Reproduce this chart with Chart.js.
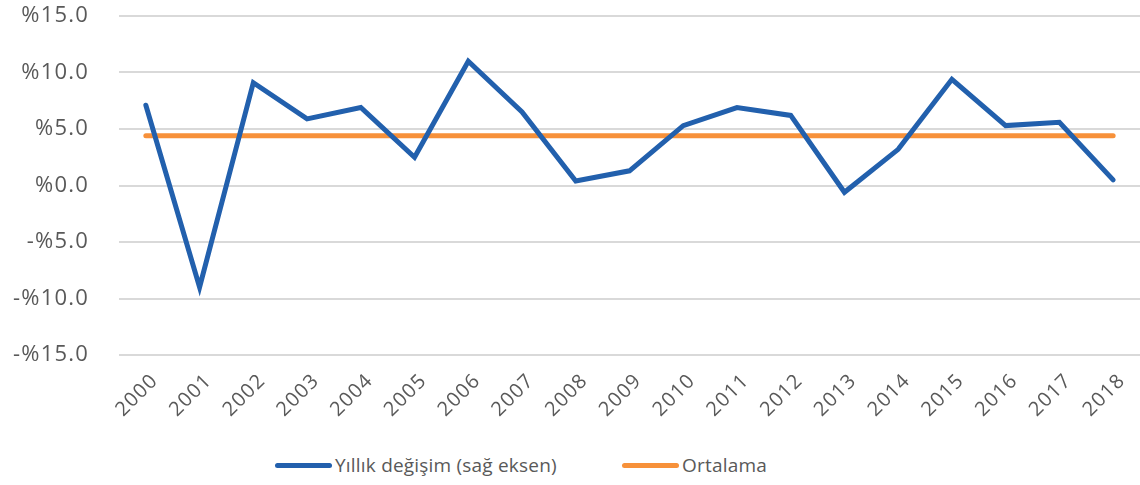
<!DOCTYPE html>
<html>
<head>
<meta charset="utf-8">
<script src="https://cdn.jsdelivr.net/npm/chart.js@4"></script>
<style>
  html, body { margin: 0; padding: 0; background: #fff; }
  #wrap { width: 1140px; height: 485px; position: relative; font-family: "Open Sans", Roboto, sans-serif; }
  #canvasBox { position: absolute; left: 0; top: 0; width: 1140px; height: 440px; }
  #legend { position: absolute; top: 452px; left: 0; width: 1140px; height: 30px; }
  .item { position: absolute; top: 0; display: flex; align-items: center; color: #595959; font-size: 19px; font-weight: 400; letter-spacing: 0.2px; }
  .swatch { width: 57px; height: 5px; border-radius: 3px; margin-right: 3px; }
</style>
</head>
<body>
<div id="wrap">
  <div id="canvasBox"><canvas id="chart"></canvas></div>
  <div id="legend"></div>
</div>
<script>
const years = ['2000', '2001', '2002', '2003', '2004', '2005', '2006', '2007', '2008', '2009',
  '2010', '2011', '2012', '2013', '2014', '2015', '2016', '2017', '2018'];
const yearlyChange = [7.1, -9.0, 9.1, 5.9, 6.9, 2.5, 11.0, 6.5, 0.4, 1.3,
  5.3, 6.9, 6.2, -0.6, 3.2, 9.4, 5.3, 5.6, 0.5];
const average = [4.4, 4.4, 4.4, 4.4, 4.4, 4.4, 4.4, 4.4, 4.4, 4.4,
  4.4, 4.4, 4.4, 4.4, 4.4, 4.4, 4.4, 4.4, 4.4];
const yTicks = [-15, -10, -5, 0, 5, 10, 15];
const seriesNames = ['Yıllık değişim (sağ eksen)', 'Ortalama'];
const seriesColors = ['#2260AD', '#F7913A'];

const FONT = '"Open Sans", Roboto, sans-serif';
const TEXT = '#595959';
const Y_PAD = 30;

function formatPct(v) {
  const s = Math.abs(v).toFixed(1);
  return v < 0 ? `-%${s}` : `%${s}`;
}

function renderLegend() {
  const legend = document.getElementById('legend');
  const lefts = [275, 622];
  legend.innerHTML = seriesNames.map((name, i) => `
    <div class="item" style="left:${lefts[i]}px">
      <span class="swatch" style="background:${seriesColors[i]}"></span>${name}
    </div>
  `).join('');
}

// the reference tick labels are set a little wider than Open Sans;
// canvas resizes reset the context, so set it again before layout and draw
const letterSpacing = {
  id: 'letterSpacing',
  beforeLayout(chart) { chart.ctx.letterSpacing = '1.2px'; },
  beforeDraw(chart) { chart.ctx.letterSpacing = '1.2px'; },
};

new Chart(document.getElementById('chart'), {
  type: 'line',
  data: {
    labels: years,
    datasets: [
      {
        label: seriesNames[0],
        data: yearlyChange,
        borderColor: seriesColors[0],
        backgroundColor: seriesColors[0],
        borderWidth: 5,
        pointRadius: 0,
        tension: 0,
        borderCapStyle: 'round',
        borderJoinStyle: 'miter',
      },
      {
        label: seriesNames[1],
        data: average,
        borderColor: seriesColors[1],
        backgroundColor: seriesColors[1],
        borderWidth: 5,
        pointRadius: 0,
        tension: 0,
        borderCapStyle: 'round',
      },
    ],
  },
  plugins: [letterSpacing],
  options: {
    responsive: true,
    maintainAspectRatio: false,
    animation: false,
    layout: { padding: { top: 16, left: 13, right: 0, bottom: 0 } },
    plugins: {
      legend: { display: false },
      tooltip: { enabled: false },
    },
    scales: {
      x: {
        offset: true,
        grid: { display: false },
        border: { display: false },
        afterFit: (axis) => {
          axis.paddingLeft = 0;
          axis.paddingRight = 0;
          axis.height = 85;
        },
        ticks: {
          color: TEXT,
          minRotation: 45,
          maxRotation: 45,
          padding: 6,
          labelOffset: 9,
          font: { family: FONT, size: 20, weight: 400 },
        },
      },
      y: {
        min: -15,
        max: 15,
        afterBuildTicks: (axis) => { axis.ticks = yTicks.map(v => ({ value: v })); },
        afterFit: (axis) => {
          // chart.js reserves the tick padding on both sides of the labels
          axis.width -= Y_PAD;
          axis.paddingTop = 0;
          axis.paddingBottom = 0;
        },
        grid: { color: '#D9D9D9', lineWidth: 2, drawTicks: false },
        border: { display: false },
        ticks: {
          color: TEXT,
          padding: Y_PAD,
          font: { family: FONT, size: 22, weight: 400 },
          callback: (v) => formatPct(v),
        },
      },
    },
  },
});

renderLegend();
</script>
</body>
</html>
